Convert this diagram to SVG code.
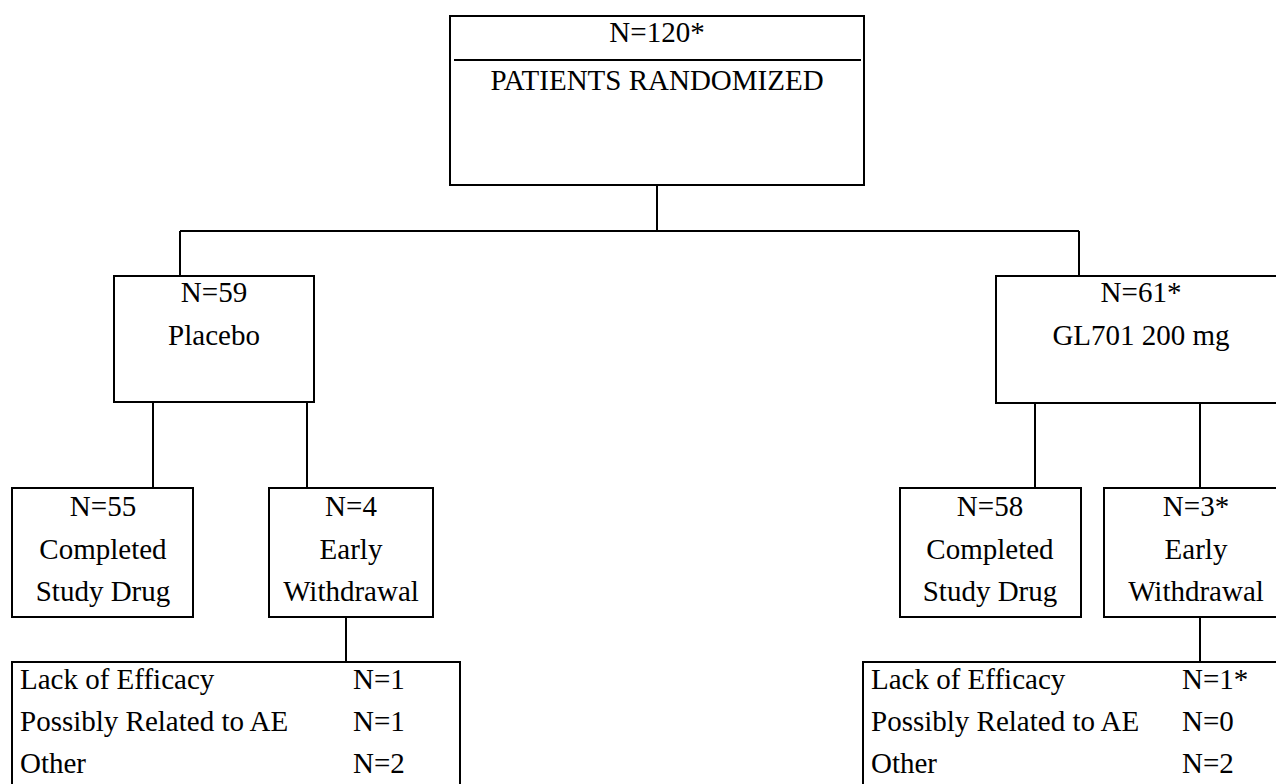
<svg xmlns="http://www.w3.org/2000/svg" width="1276" height="784" viewBox="0 0 1276 784">
<style>
.box{fill:#fff;stroke:#000;stroke-width:2}
.ln{stroke:#000;stroke-width:2;fill:none}
text{font-family:"Liberation Serif","Times New Roman",serif;font-size:29px;fill:#000}
.c{text-anchor:middle}
</style>
<rect width="1276" height="784" fill="#fff"/>
<g id="connectors">
<path class="ln" d="M657,185 V231 M180,231 H1079 M180,231 V276 M1079,231 V276"/>
<path class="ln" d="M153,402 V488 M307,402 V488 M346,617 V662"/>
<path class="ln" d="M1035,403 V488 M1200,403 V488 M1200,617 V662"/>
</g>
<g id="randomized">
<rect class="box" x="450" y="16" width="414" height="169"/>
<line class="ln" x1="454" y1="60" x2="861" y2="60"/>
<text class="c" x="657" y="42">N=120*</text>
<text class="c" x="657" y="90">PATIENTS RANDOMIZED</text>
</g>
<g id="placebo">
<rect class="box" x="114" y="276" width="200" height="126"/>
<text class="c" x="214" y="302">N=59</text>
<text class="c" x="214" y="345">Placebo</text>
</g>
<g id="gl701">
<rect class="box" x="996" y="276" width="292" height="127"/>
<text class="c" x="1141" y="302">N=61*</text>
<text class="c" x="1141" y="345">GL701 200 mg</text>
</g>
<g id="placebo-completed">
<rect class="box" x="12" y="488" width="181" height="129"/>
<text class="c" x="103" y="516">N=55</text>
<text class="c" x="103" y="559">Completed</text>
<text class="c" x="103" y="601">Study Drug</text>
</g>
<g id="placebo-withdrawal">
<rect class="box" x="269" y="488" width="164" height="129"/>
<text class="c" x="351" y="516">N=4</text>
<text class="c" x="351" y="559">Early</text>
<text class="c" x="351" y="601">Withdrawal</text>
</g>
<g id="gl701-completed">
<rect class="box" x="900" y="488" width="181" height="129"/>
<text class="c" x="990" y="516">N=58</text>
<text class="c" x="990" y="559">Completed</text>
<text class="c" x="990" y="601">Study Drug</text>
</g>
<g id="gl701-withdrawal">
<rect class="box" x="1104" y="488" width="184" height="129"/>
<text class="c" x="1196" y="516">N=3*</text>
<text class="c" x="1196" y="559">Early</text>
<text class="c" x="1196" y="601">Withdrawal</text>
</g>
<g id="placebo-reasons">
<rect class="box" x="12" y="662" width="448" height="140"/>
<text x="20" y="689">Lack of Efficacy</text>
<text x="353" y="689">N=1</text>
<text x="20" y="731">Possibly Related to AE</text>
<text x="353" y="731">N=1</text>
<text x="20" y="773">Other</text>
<text x="353" y="773">N=2</text>
</g>
<g id="gl701-reasons">
<rect class="box" x="863" y="662" width="440" height="140"/>
<text x="871" y="689">Lack of Efficacy</text>
<text x="1182" y="689">N=1*</text>
<text x="871" y="731">Possibly Related to AE</text>
<text x="1182" y="731">N=0</text>
<text x="871" y="773">Other</text>
<text x="1182" y="773">N=2</text>
</g>
</svg>
